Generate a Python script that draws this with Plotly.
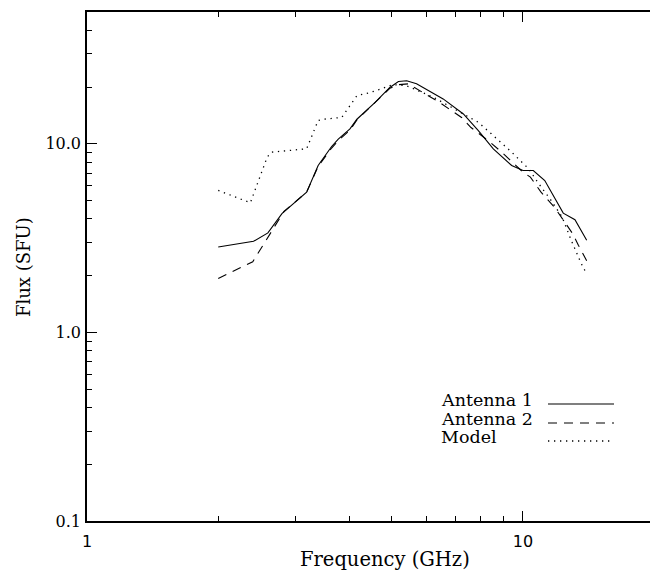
import numpy as np
import plotly.graph_objects as go

# ---- data ----
ant1_f = [2.0, 2.41, 2.6, 2.8, 3.19, 3.39, 3.64, 3.77, 4.01, 4.16, 4.58, 4.95, 5.18, 5.41, 5.70,
          6.56, 7.30, 7.90, 8.55, 9.42, 10.0, 10.56, 11.22, 12.37, 13.16, 14.0]
ant1_s = [2.84, 3.04, 3.37, 4.26, 5.54, 7.67, 9.68, 10.6, 12.0, 13.5, 16.6, 19.9, 21.4, 21.6, 20.8,
          17.3, 14.4, 11.75, 9.4, 7.68, 7.22, 7.22, 6.39, 4.29, 3.96, 3.08]

ant2_f = [2.0, 2.40, 2.83, 3.19, 3.39, 3.64, 3.77, 4.01, 4.16, 4.58, 4.95, 5.18, 5.45, 6.38, 6.68,
          6.92, 7.23, 7.60, 8.32, 8.94, 10.0, 10.4, 11.0, 11.8, 12.5, 13.0, 13.4, 14.0]
ant2_s = [1.93, 2.37, 4.38, 5.54, 7.6, 9.5, 10.4, 11.8, 13.4, 16.5, 19.7, 20.6, 20.8, 16.8, 15.6,
          14.7, 13.8, 12.2, 10.4, 9.03, 7.08, 6.66, 5.54, 4.62, 3.80, 3.34, 2.90, 2.40]

model_f = [2.0, 2.37, 2.59, 2.65, 3.19, 3.39, 3.48, 3.84, 4.16, 4.46, 5.04, 5.41, 6.22, 7.90, 8.46,
           9.42, 10.3, 10.8, 11.6, 12.3, 12.9, 13.6, 14.0]
model_s = [5.66, 4.87, 8.5, 9.03, 9.41, 13.3, 13.5, 13.8, 18.0, 18.7, 20.6, 20.3, 17.7, 13.0, 11.3,
           9.03, 7.38, 6.27, 5.01, 4.09, 3.08, 2.32, 2.04]

x_major = [1, 10]
x_major_text = ["1", "10"]
x_minor = [2, 3, 4, 5, 6, 7, 8, 9]
y_major = [0.1, 1, 10]
y_major_text = ["0.1", "1.0", "10.0"]
y_minor = [0.2, 0.3, 0.4, 0.5, 0.6, 0.7, 0.8, 0.9, 2, 3, 4, 5, 6, 7, 8, 9, 20, 30, 40]
x_max_visible = 19.56   # the frame continues to 20 GHz, just past the window edge
y_range = [0.1, 50]

legend_names = ["Antenna 1", "Antenna 2", "Model"]

# figure geometry (pixels)
W, H = 650, 571
L, R, T, B = 87, 0, 12, 50
PW, PH = W - L - R, H - T - B

def px(x):
    return (x - L) / PW

def py(y):
    return (H - B - y) / PH

SERIF = "DejaVu Serif"

fig = go.Figure()
line_specs = [dict(color="black", width=1.1),
              dict(color="black", width=1.1, dash="9px,7px"),
              dict(color="black", width=1.3, dash="1.3px,4.7px")]
for name, xs, ys, ln in zip(legend_names, [ant1_f, ant2_f, model_f], [ant1_s, ant2_s, model_s], line_specs):
    fig.add_trace(go.Scatter(x=xs, y=ys, mode="lines", name=name, line=ln, showlegend=False,
                             hoverinfo="skip"))

axis_common = dict(showline=True, linecolor="black", linewidth=1.6,
                   ticks="inside", ticklen=10, tickwidth=1.2, tickcolor="black",
                   showgrid=False, zeroline=False)

fig.update_xaxes(type="log", range=[0, np.log10(x_max_visible)], tickmode="array",
                 tickvals=x_major, ticktext=x_major_text, mirror="ticks",
                 tickfont=dict(family="DejaVu Sans", size=16, color="black"),
                 ticklabelstandoff=5,
                 minor=dict(tickmode="array", tickvals=x_minor, ticks="inside", ticklen=5,
                            tickwidth=1.2, tickcolor="black"),
                 **axis_common)
fig.update_yaxes(type="log", range=[np.log10(y_range[0]), np.log10(y_range[1])], tickmode="array",
                 tickvals=y_major, ticktext=y_major_text, mirror=False,
                 tickfont=dict(family=SERIF, size=16, color="black"),
                 ticklabelstandoff=1,
                 minor=dict(tickmode="array", tickvals=y_minor, ticks="inside", ticklen=5,
                            tickwidth=1.2, tickcolor="black"),
                 **axis_common)

ann = [
    dict(text="Frequency (GHz)", x=px(385), y=py(559.5), textangle=0, size=19.5),
    dict(text="Flux (SFU)", x=px(23), y=py(267), textangle=-90, size=18),
]
ann = [dict(text=a["text"], x=a["x"], y=a["y"], textangle=a["textangle"], xref="paper", yref="paper",
            showarrow=False, xanchor="center", yanchor="middle",
            font=dict(family=SERIF, size=a["size"], color="black")) for a in ann]

# legend text
leg_y = [400, 418.5, 437]
for name, yy in zip(legend_names, leg_y):
    ann.append(dict(text=name, x=px(439), y=py(yy), xref="paper", yref="paper",
                    showarrow=False, xanchor="left", yanchor="middle",
                    font=dict(family=SERIF, size=17.5, color="black")))
fig.update_layout(annotations=ann)

# legend sample lines
shape_y = [404, 423, 441]
for ln, yy in zip(line_specs, shape_y):
    fig.add_shape(type="line", xref="paper", yref="paper",
                  x0=px(548), x1=px(614), y0=py(yy), y1=py(yy), line=ln)

fig.update_layout(width=W, height=H, margin=dict(l=L, r=R, t=T, b=B, autoexpand=False),
                  paper_bgcolor="white", plot_bgcolor="white", showlegend=False)

fig.write_html("out.html", config={"displayModeBar": False},
               post_script="document.body.style.margin='0';document.body.style.overflow='hidden';")
